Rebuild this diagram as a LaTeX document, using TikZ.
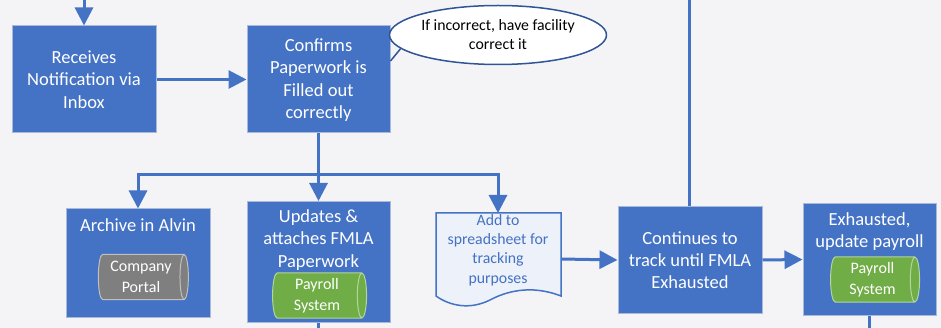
\documentclass[tikz,border=0pt]{standalone}
\usepackage{fontspec}
\setmainfont{Carlito}
\usetikzlibrary{shapes.geometric,arrows.meta,calc}
\definecolor{boxblue}{HTML}{4472C4}
\definecolor{boxedge}{HTML}{A9B9D9}
\definecolor{darkblue}{HTML}{2F5597}
\definecolor{pgreen}{HTML}{70AD47}
\definecolor{pgreenedge}{HTML}{B4D59C}
\definecolor{pgray}{HTML}{7F7F7F}
\definecolor{pgrayedge}{HTML}{C0C0C0}
\definecolor{bgcol}{HTML}{F4F4F6}
\definecolor{docfill}{HTML}{EDF1F9}
\begin{document}
\begin{tikzpicture}[x=1pt,y=-1pt,
  procbox/.style={rectangle,fill=boxblue,draw=boxedge,line width=1pt,inner sep=0pt},
  boxtext/.style={text=white,font=\fontsize{18.5}{22.3}\selectfont,align=center,inner sep=0pt},
  dbcyl/.style={cylinder,shape aspect=0.27,minimum width=45pt,line width=1pt,inner sep=0pt,
     text=white,font=\fontsize{16}{20.5}\selectfont,align=center},
  flow/.style={draw=boxblue,line width=3pt,-{Triangle[width=18pt,length=18pt]}},
  plain/.style={draw=boxblue,line width=3pt},
  callout/.style={draw=darkblue,line width=1.5pt}
]
\fill[bgcol] (0,0) rectangle (941,328);
\useasboundingbox (0,0) rectangle (941,328);

% top row
\node[procbox,minimum width=144pt,minimum height=107pt] (rec) at (84,79.5) {};
\node[boxtext] (rect) at (rec) {Receives\\Notification via\\Inbox};
\node[procbox,minimum width=143pt,minimum height=107pt] (conf) at (318.5,79.5) {};
\node[boxtext] (conft) at (318.5,80) {Confirms\\Paperwork is\\Filled out\\correctly};
\node[ellipse,draw=darkblue,fill=white,line width=1.5pt,minimum width=192pt,minimum height=59pt,
      inner sep=0pt,align=center,font=\fontsize{15.8}{19}\selectfont] (ell) at (498,35)
      {If incorrect, have facility\\correct it};

% bottom row
\node[procbox,minimum width=144pt,minimum height=108pt] (arch) at (138,263) {};
\node[boxtext] (archt) at (138,225) {Archive in Alvin};
\node[dbcyl,fill=pgray,draw=pgrayedge,minimum height=90pt] (portal) at (141,277) {Company\\Portal};

\node[procbox,minimum width=143pt,minimum height=121pt] (upd) at (318.5,262) {};
\node[boxtext] (updt) at (318.5,240) {Updates \&\\attaches FMLA\\Paperwork};
\node[dbcyl,fill=pgreen,draw=pgreenedge,minimum height=94pt] (pay1) at (317,295.5) {Payroll\\System};

% document shape
\coordinate (doctop) at (498,213);
\coordinate (docR) at (561,259);
\filldraw[fill=docfill,draw=boxblue,line width=1.5pt]
  (436,213) -- (561,213) -- (561,296)
  .. controls (530,284) and (505,292) .. (490,300)
  .. controls (470,310) and (450,306) .. (436,296) -- cycle;
\node[text=boxblue,font=\fontsize{15.8}{19.3}\selectfont,align=center,inner sep=0pt] (doc) at (498,250)
  {Add to\\spreadsheet for\\tracking\\purposes};

\node[procbox,minimum width=144pt,minimum height=106pt] (cont) at (690,260) {};
\node[boxtext] (contt) at (cont) {Continues to\\track until FMLA\\Exhausted};

\node[procbox,minimum width=133pt,minimum height=111pt] (exh) at (869.5,259.5) {};
\node[boxtext] (exht) at (869.5,231.5) {Exhausted,\\update payroll};
\node[dbcyl,fill=pgreen,draw=pgreenedge,minimum height=89pt] (pay2) at (872.5,279.5) {Payroll\\System};

% connector coordinates
\coordinate (topin) at (84,0);
\coordinate (contup) at (689,0);
\coordinate (branch) at (318.5,175);
\coordinate (updout) at (318.5,328);
\coordinate (exhout) at (869,328);

% connectors
\draw[flow] (topin) -- (rec.north);
\draw[flow] (rec.east) -- (conf.west);
\draw[callout] ($(conf.east)+(0,-18.5)$) -- (ell.188);
\draw[flow] (conf.south) -- (upd.north);
\draw[flow] (branch) -| (arch.north);
\draw[flow] (branch) -| (doctop);
\draw[flow] (docR) -- (cont.west);
\draw[plain] (cont.north -| contup) -- (contup);
\draw[flow] (cont.east) -- (exh.west);
\draw[plain] (upd.south) -- (updout);
\draw[plain] (exh.south -| exhout) -- (exhout);
\end{tikzpicture}
\end{document}
